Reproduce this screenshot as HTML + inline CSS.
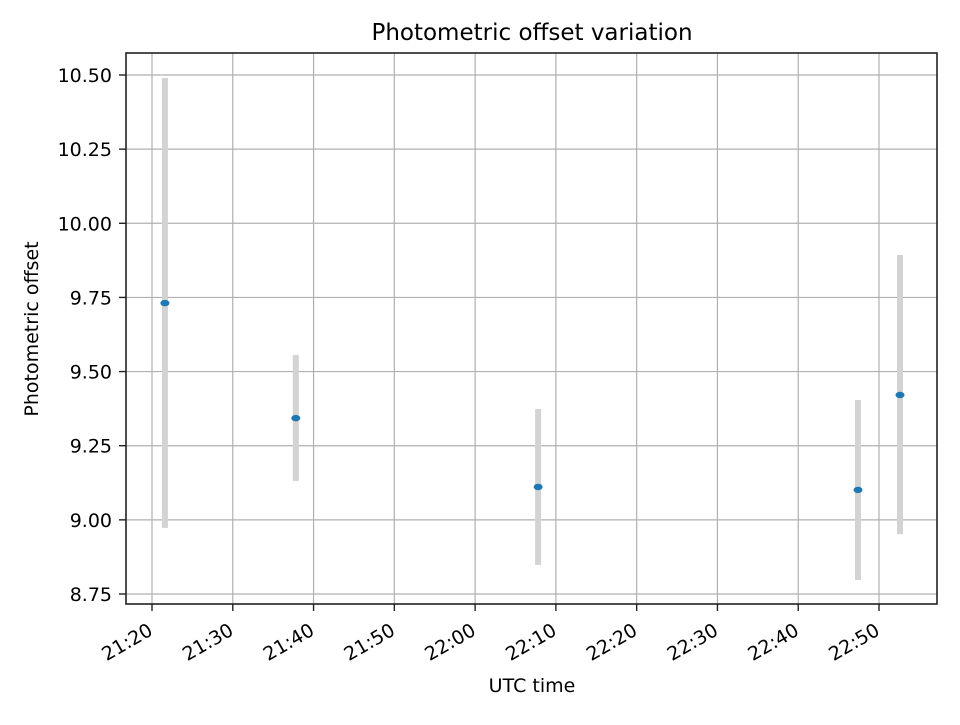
<!DOCTYPE html>
<html><head><meta charset="utf-8"><style>
body{margin:0;background:#fff}
text{font-family:"DejaVu Sans","Liberation Sans",sans-serif;fill:#000}
</style></head><body>
<svg id="chart" width="960" height="720" xmlns="http://www.w3.org/2000/svg">
<rect width="960" height="720" fill="#fff"/>
<g id="grid"></g>
<g id="series"></g>
<rect x="126" y="53" width="811" height="551" fill="none" stroke="#222" stroke-width="1.6"/>
<g id="axes"></g>
<text x="532" y="40" font-size="23" text-anchor="middle">Photometric offset variation</text>
<text x="532" y="692" font-size="19" text-anchor="middle">UTC time</text>
<text x="38" y="329" font-size="19" text-anchor="middle" transform="rotate(-90 38 329)">Photometric offset</text>
</svg>
<script>
const times=[21*60+21.6,21*60+37.8,22*60+7.8,22*60+47.4,22*60+52.6];
const offsets=[9.731,9.343,9.111,9.101,9.421];
const errLow=[8.973,9.131,8.848,8.797,8.952];
const errHigh=[10.49,9.556,9.374,9.404,9.893];
const xTicks=[1280,1290,1300,1310,1320,1330,1340,1350,1360,1370];
const xTickLabels=["21:20","21:30","21:40","21:50","22:00","22:10","22:20","22:30","22:40","22:50"];
const yTicks=[8.75,9.0,9.25,9.5,9.75,10.0,10.25,10.5];
const yTickLabels=["8.75","9.00","9.25","9.50","9.75","10.00","10.25","10.50"];
const NS="http://www.w3.org/2000/svg";
const X=m=>152+(m-1280)*727/90;
const Y=v=>75+(10.5-v)*519/1.75;
function mk(p,tag,a){const e=document.createElementNS(NS,tag);for(const k in a)e.setAttribute(k,a[k]);p.appendChild(e);return e;}
const g=document.getElementById('grid'),ax=document.getElementById('axes'),s=document.getElementById('series');
xTicks.forEach((t,i)=>{const x=X(t);
 const l=mk(g,'line',{x1:x,x2:x,y1:53,y2:604,stroke:'#b0b0b0','stroke-width':1.2});
 
 const tk=mk(ax,'line',{x1:x,x2:x,y1:604,y2:611,stroke:'#222','stroke-width':1.4});
 
 const px=x+2,py=634;
 const tx=mk(ax,'text',{x:px,y:py,'font-size':19,'text-anchor':'end',transform:`rotate(-30 ${px} ${py})`});
 tx.textContent=xTickLabels[i];
 });
yTicks.forEach((t,i)=>{const y=Y(t);
 const l=mk(g,'line',{x1:126,x2:937,y1:y,y2:y,stroke:'#b0b0b0','stroke-width':1.2});
 
 const tk=mk(ax,'line',{x1:119,x2:126,y1:y,y2:y,stroke:'#222','stroke-width':1.4});
 
 const tx=mk(ax,'text',{x:112,y:y+7,'font-size':19,'text-anchor':'end'});
 tx.textContent=yTickLabels[i];
 });
times.forEach((t,i)=>{const x=X(t);
 const e=mk(s,'line',{x1:x,x2:x,y1:Y(errHigh[i]),y2:Y(errLow[i]),stroke:'#d3d3d3','stroke-width':6});
 });
times.forEach((t,i)=>{
 const p=mk(s,'ellipse',{cx:X(t),cy:Y(offsets[i]),rx:4.5,ry:3.2,fill:'#1f77b4'});
 });
</script>
</body></html>
